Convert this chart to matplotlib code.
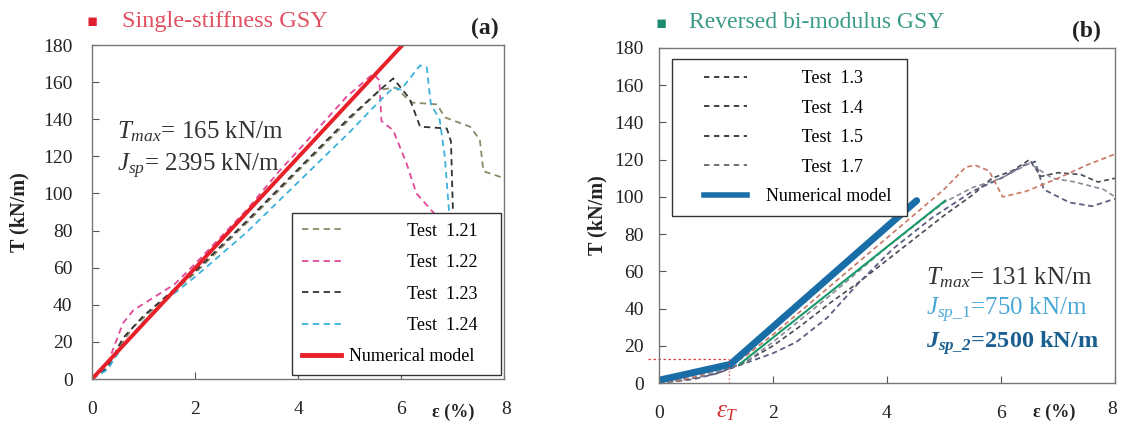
import matplotlib
matplotlib.use("Agg")
import numpy as np
import matplotlib.pyplot as plt
from matplotlib.lines import Line2D
from matplotlib.legend_handler import HandlerLine2D

plt.rcParams['font.family'] = ['Liberation Serif', 'DejaVu Serif', 'DejaVu Sans']
plt.rcParams['mathtext.fontset'] = 'custom'
plt.rcParams['mathtext.rm'] = 'Liberation Serif'
plt.rcParams['mathtext.it'] = 'Liberation Serif:italic'
plt.rcParams['mathtext.bf'] = 'Liberation Serif:bold'
try:
    plt.rcParams['mathtext.bfit'] = 'Liberation Serif:italic:bold'
except KeyError:
    pass

# ---------------- Panel (a) data ----------------
a_model_x = [0, 6.03]
a_model_y = [0, 180]

a_t121_x = [0, 0.4, 0.8, 1.2, 2, 3, 4, 5, 5.6, 5.9, 6.2, 6.7, 6.85, 7.34, 7.53, 7.6, 7.92, 8.0]
a_t121_y = [0, 12, 28, 38, 57, 84, 112, 140, 156, 157, 149, 148, 141, 136, 129, 112, 109, 107]

a_t122_x = [0, 0.3, 0.6, 0.8, 1.2, 1.6, 2, 3, 3.65, 4, 4.94, 5.46, 5.58, 5.62, 5.85, 6.11, 6.3, 6.62, 6.8, 7.0]
a_t122_y = [0, 8, 30, 37, 44, 51, 62, 91, 112.5, 123, 152, 164.5, 161, 139, 134, 116, 100, 90, 85, 80]

a_t123_x = [0, 0.3, 0.6, 1.0, 1.5, 2, 3, 4, 5, 5.6, 5.85, 6.17, 6.37, 6.89, 6.97, 7.01, 7.05, 7.5, 7.85, 7.95]
a_t123_y = [0, 6, 22, 34, 46, 58, 85, 113, 141, 156, 162, 151, 136, 135, 128, 89, 62, 56, 53, 46]

a_t124_x = [0, 0.3, 0.6, 1.0, 1.5, 2, 3, 4, 5, 5.59, 5.85, 6.0, 6.37, 6.5, 6.58, 6.75, 6.85, 6.92, 6.97]
a_t124_y = [0, 5, 18, 31, 44, 55, 79, 106, 133, 150, 157, 156, 169, 168, 148, 140, 120, 95, 78]

a_labels = ["Test  1.21", "Test  1.22", "Test  1.23", "Test  1.24", "Numerical model"]

# ---------------- Panel (b) data ----------------
b_model_x = [0, 1.25, 4.52]
b_model_y = [1.5, 10, 98]

b_green_x = [1.41, 5.02]
b_green_y = [10, 98]

b_t13_x = [0, 0.5, 1.0, 1.5, 2, 2.5, 3, 3.5, 4, 4.5, 5, 5.5, 5.84, 6.2, 6.5, 6.7, 7.0, 7.4, 7.7, 8.0]
b_t13_y = [0, 2, 5, 11, 20, 31, 43, 54, 66, 78, 90, 101, 110, 114, 120, 111, 113, 112, 108, 110]

b_t14_x = [0, 0.6, 1.0, 1.41, 2.0, 2.41, 2.95, 3.48, 4.1, 4.8, 5.5, 6.0, 6.4, 6.6, 6.75, 7.2, 7.6, 8.0]
b_t14_y = [0, 2, 5, 9.5, 16, 22, 35, 53, 72, 89, 103, 110, 117, 119, 104, 97, 95, 99]

b_t15_x = [0, 0.8, 1.3, 1.6, 2, 3, 4, 5, 5.5, 6, 6.5, 6.9, 7.3, 7.8, 8.0]
b_t15_y = [0, 4, 9, 13, 22, 47, 73, 97, 105, 110, 118, 110, 108, 104, 100]

b_t17_x = [0, 0.6, 1.2, 1.5, 2, 3, 4, 5, 5.38, 5.55, 5.79, 6.03, 6.44, 7.0, 7.5, 8.0]
b_t17_y = [0, 3, 9, 14, 26, 52, 78, 104, 116, 117, 114, 100, 103, 110, 117, 123]

b_labels = ["Test  1.3", "Test  1.4", "Test  1.5", "Test  1.7", "Numerical model"]

eps_T = 1.22
T_eps = 12.8

xticks = [0, 2, 4, 6, 8]
yticks = [0, 20, 40, 60, 80, 100, 120, 140, 160, 180]

W, H = 1124, 422
fig = plt.figure(figsize=(W / 100, H / 100), dpi=100)


def box(l, t, r, b):
    return [l / W, 1 - b / H, (r - l) / W, (b - t) / H]


axa = fig.add_axes(box(92, 45, 504, 379))
axb = fig.add_axes(box(659, 48, 1115, 383))

for ax, ypad in ((axa, 14), (axb, 11)):
    ax.set_xlim(0, 8)
    ax.set_ylim(0, 180)
    ax.set_xticks(xticks)
    ax.set_yticks(yticks)
    ax.tick_params(direction='in', length=5, width=0.8, colors='#555555',
                   labelcolor='#222222', labelsize=14)
    ax.tick_params(axis='y', pad=ypad)
    ax.tick_params(axis='x', pad=15.5)
    for s in ax.spines.values():
        s.set_color('#777777')
        s.set_linewidth(1.0)
    ax.set_xticklabels(['0', '2', '4', '6', ''])

axa.set_ylabel('T (kN/m)', fontsize=14.5, fontweight='bold', color='#222222')
axb.set_ylabel('T (kN/m)', fontsize=14.5, fontweight='bold', color='#222222')
axa.yaxis.set_label_coords((29 - 92) / (504 - 92), 0.5)
axb.yaxis.set_label_coords((607 - 659) / (1115 - 659), 0.5)


class ShiftHandler(HandlerLine2D):
    def __init__(self, frac=0.0, **kw):
        super().__init__(**kw)
        self.frac = frac

    def get_xdata(self, legend, xdescent, ydescent, width, height, fontsize):
        xd, xm = super().get_xdata(legend, xdescent, ydescent, width, height, fontsize)
        lo = -xdescent + width * self.frac
        return np.array([lo, -xdescent + width]), xm


dash = (0, (3.5, 2.5))
c121, c122, c123, c124 = '#8c8a6a', '#e0489a', '#333333', '#3ab2dc'
axa.plot(a_t121_x, a_t121_y, color=c121, lw=1.3, ls=dash)
axa.plot(a_t122_x, a_t122_y, color=c122, lw=1.3, ls=dash)
axa.plot(a_t123_x, a_t123_y, color=c123, lw=1.3, ls=dash)
axa.plot(a_t124_x, a_t124_y, color=c124, lw=1.3, ls=dash)
axa.plot(a_model_x, a_model_y, color='#e8202a', lw=2.8, solid_capstyle='butt')

ha = [Line2D([], [], color=c, lw=1.3, ls=dash) for c in (c121, c122, c123, c124)]
hred = Line2D([], [], color='#e8202a', lw=3.5)
ha.append(hred)
la = [" " * 13 + lab + "   " for lab in a_labels[:4]] + [a_labels[4]]
lega = axa.legend(ha, la, loc='upper left', bbox_to_anchor=(291.7 / W, 1 - 212.7 / H),
                  bbox_transform=fig.transFigure, fontsize=13, frameon=True, fancybox=False,
                  edgecolor='#333333', framealpha=1, borderaxespad=0, handlelength=2.2,
                  labelspacing=0.8, borderpad=0.55, handletextpad=0.4,
                  handler_map={hred: ShiftHandler(frac=0.0)})
lega.get_frame().set_linewidth(1.0)

axa.text(0.06, 0.74, r"$T_{max}$= 165 kN/m", transform=axa.transAxes, fontsize=18, color='#333333', va='center')
axa.text(0.06, 0.637, r"$J_{sp}$= 2395 kN/m", transform=axa.transAxes, fontsize=18, color='#333333', va='center')

fig.text(506 / W, 1 - 409 / H, '8', fontsize=14, color='#222222', ha='center', va='center')
fig.text(453 / W, 1 - 412 / H, 'ε (%)', fontsize=13, fontweight='bold', color='#222222', ha='center', va='center')

# panel b
cb13, cb14, cb15, cb17 = '#4a4a55', '#5a5f80', '#8a8a9a', '#c87862'
db = (0, (3, 2))
axb.plot(b_t13_x, b_t13_y, color=cb13, lw=1.2, ls=db)
axb.plot(b_t14_x, b_t14_y, color=cb14, lw=1.3, ls=db)
axb.plot(b_t15_x, b_t15_y, color=cb15, lw=1.2, ls=db)
axb.plot(b_t17_x, b_t17_y, color=cb17, lw=1.2, ls=db)
axb.plot(b_green_x, b_green_y, color='#1a9a6a', lw=1.5)
axb.plot(b_model_x, b_model_y, color='#1a6ea8', lw=5, solid_capstyle='round')
axb.plot([-0.2, eps_T], [T_eps, T_eps], color='#e04040', lw=0.9, ls=(0, (2, 2)), clip_on=False)
axb.plot([eps_T, eps_T], [0, T_eps], color='#e04040', lw=0.9, ls=(0, (1, 2)))

hb = [Line2D([], [], color=c, lw=1.3, ls=(0, (3, 2.5))) for c in ('#333333', '#333333', '#333333', '#666666')]
hb.append(Line2D([], [], color='#1a6ea8', lw=4))
hmap = {h: ShiftHandler(frac=0.34) for h in hb}
lb = [" " * 8 + lab for lab in b_labels[:4]] + [b_labels[4] + " "]
legb = axb.legend(hb, lb, loc='upper left', bbox_to_anchor=(671.7 / W, 1 - 59.3 / H),
                  bbox_transform=fig.transFigure, fontsize=13, frameon=True, fancybox=False,
                  edgecolor='#333333', framealpha=1, borderaxespad=0, handlelength=3.55,
                  labelspacing=0.69, borderpad=0.6, handletextpad=1.1, handler_map=hmap)
legb.get_frame().set_linewidth(1.0)

axb.text(0.585, 0.313, r"$T_{max}$= 131 kN/m", transform=axb.transAxes, fontsize=18, color='#333333', va='center')
axb.text(0.585, 0.218, r"$J_{sp\_1}$=750 kN/m", transform=axb.transAxes, fontsize=18, color='#4aa8d8', va='center')
axb.text(0.585, 0.118, r"$\mathbfit{J}_{\mathbfit{sp\_2}}$=2500 kN/m", transform=axb.transAxes, fontsize=17.5,
         color='#1a5f90', va='center', fontweight='bold')

fig.text(727 / W, 1 - 412 / H, r"$\varepsilon_T$", fontsize=18, color='#d03030', ha='center', va='center')
fig.text(1112 / W, 1 - 410 / H, '8', fontsize=14, color='#222222', ha='center', va='center')
fig.text(1054 / W, 1 - 412 / H, 'ε (%)', fontsize=13, fontweight='bold', color='#222222', ha='center', va='center')

# headers
fig.text(92 / W, 1 - 21 / H, '▪', fontsize=12, color='#e02030', ha='center', va='center', family='DejaVu Sans')
fig.text(122 / W, 1 - 21 / H, 'Single-stiffness GSY', fontsize=17.5, color='#e05060', ha='left', va='center')
fig.text(485 / W, 1 - 28 / H, '(a)', fontsize=17, fontweight='bold', color='#222222', ha='center', va='center')
fig.text(661 / W, 1 - 23 / H, '▪', fontsize=12, color='#1a8a70', ha='center', va='center', family='DejaVu Sans')
fig.text(689 / W, 1 - 23 / H, 'Reversed bi-modulus GSY', fontsize=17, color='#3a9a88', ha='left', va='center')
fig.text(1086 / W, 1 - 31 / H, '(b)', fontsize=17, fontweight='bold', color='#222222', ha='center', va='center')

fig.savefig('out.png', dpi=100)
